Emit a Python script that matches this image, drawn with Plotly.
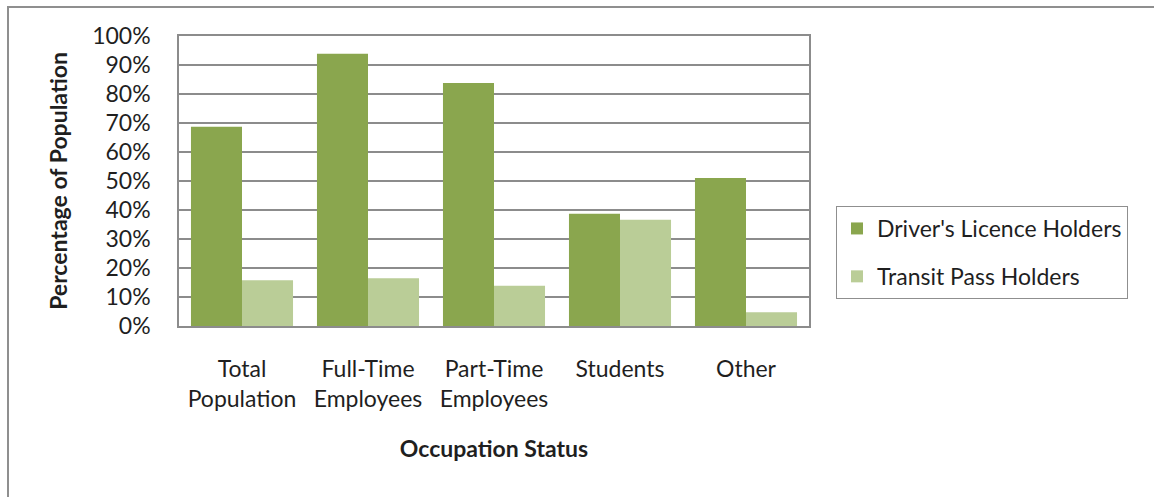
import plotly.graph_objects as go

categories = ["Total<br>Population", "Full-Time<br>Employees", "Part-Time<br>Employees", "Students", "Other"]
licence_holders = [0.687, 0.939, 0.838, 0.387, 0.51]
transit_pass_holders = [0.158, 0.165, 0.139, 0.366, 0.047]
y_ticks = [i / 10 for i in range(11)]

W, H = 1154, 497
L, R, T, B = 179, 345, 36, 171

font_family = "Lato, 'Noto Sans', sans-serif"
text_color = "#1f1f1f"
grid_color = "#8c8c8c"
fs = 23

fig = go.Figure()
fig.add_trace(go.Bar(
    x=categories, y=licence_holders, name="Driver's Licence Holders",
    marker=dict(color="#8aa64e", line=dict(width=0)), legendgroup="a",
))
fig.add_trace(go.Bar(
    x=categories, y=transit_pass_holders, name="Transit Pass Holders",
    marker=dict(color="#bacd97", line=dict(width=0)), legendgroup="b",
))

# outer chart frame (top and left edges visible)
fig.add_shape(type="rect", xref="paper", yref="paper",
              x0=(8 - L) / (W - L - R), x1=(W + 20 - L) / (W - L - R),
              y0=(H - B - (H + 20)) / (H - T - B), y1=(H - B - 7) / (H - T - B),
              line=dict(color="#8f8f8f", width=2), layer="below")

fig.update_layout(
    width=W, height=H,
    margin=dict(l=L, r=R, t=T, b=B, pad=0),
    paper_bgcolor="white", plot_bgcolor="white",
    barmode="group", bargap=0.19, bargroupgap=0,
    font=dict(family=font_family, size=fs, color=text_color),
    showlegend=True,
    legend=dict(
        x=(836 - L) / (W - L - R), xanchor="left",
        y=(H - B - 206) / (H - T - B), yanchor="top",
        bordercolor="#8f8f8f", borderwidth=1,
        bgcolor="white", tracegroupgap=15,
        font=dict(size=fs, color=text_color),
    ),
    xaxis=dict(
        showline=True, linecolor=grid_color, linewidth=1.5, mirror=True,
        ticks="", ticklabelstandoff=22,
        tickfont=dict(size=fs),
        title=dict(text="<b>Occupation Status</b>", font=dict(size=fs), standoff=30),
    ),
    yaxis=dict(
        range=[0, 1], tickvals=y_ticks, tickformat=".0%",
        showgrid=True, gridcolor=grid_color, gridwidth=1.5,
        showline=True, linecolor=grid_color, linewidth=1.5, mirror=True,
        ticks="", ticklabelstandoff=22, zeroline=False,
        tickfont=dict(size=fs),
        title=dict(text="<b>Percentage of Population</b>", font=dict(size=fs), standoff=18),
    ),
)

fig.write_html("out.html")
